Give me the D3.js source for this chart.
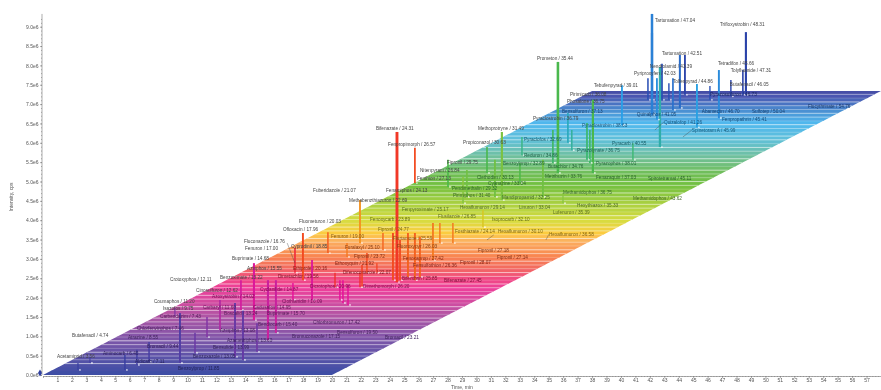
<!DOCTYPE html>
<html>
<head>
<meta charset="utf-8">
<style>
  body { margin: 0; background: #fff; }
  svg { display: block; font-family: "Liberation Sans", Arial, sans-serif; filter: blur(0.55px); }
  .axis path, .axis line { stroke: #777; stroke-width: 0.6; }
  .axis text { fill: #555; font-size: 5px; font-family: "Liberation Sans", Arial, sans-serif; }
  .title { fill: #555; font-size: 5px; }
  .label { font-size: 4.7px; }
</style>
<script src="https://cdn.jsdelivr.net/npm/d3@7"></script>
</head>
<body>
<svg width="881" height="390"></svg>
<script>
// colour ramp along the stack, keyed on the row level (1e6 units of the y axis)
var rampLevels = [0, .39, .9, 1.42, 1.81, 2.2, 2.45, 2.71, 3.05, 3.41, 3.62, 3.93, 4.39, 4.86, 5.17, 5.61, 6.02, 6.46, 6.8, 6.98, 7.16, 7.34];
var bandColors = ["#3f4ea5", "#5a53a8", "#8055a8", "#aa55a5", "#d04ca0", "#ee3f9a", "#f04a80", "#f26a60", "#f98850", "#fbb060", "#fccc40",
                  "#d8dc40", "#a8d040", "#72c040", "#70be58", "#70c0a0", "#60c0d8", "#50b8ee", "#4a8cd0", "#4a70c0", "#4a55b0", "#43479f"];
var peakColors = ["#2f3f9f", "#4a3fa5", "#6a3aa5", "#8a35a5", "#c0259f", "#e6129a", "#ee1a6a", "#f0302a", "#f2501f", "#f47a20", "#f5b520",
                  "#c8d020", "#8ec63f", "#4cb848", "#4cb848", "#3cb878", "#2aa8c0", "#29a0e8", "#2a78d0", "#2a60c0", "#2a48b0", "#2a3aa0"];

var yTicks = d3.range(0, 9.5, 0.5);
var xTicks = d3.range(1, 58);
var gapOpacity = [.7, .3, .5, .75, .25, .6];

// [time, base, top, row] - row only where the trace colour differs from its base level
var peaks = [
  [42.15, 6.72, 9.33], [42.15, 7.11, 8.84], [48.65, 7.24, 8.86], [44.08, 6.9, 8.27], [44.43, 7.24, 8.27],
  [42.84, 7.11, 8.04], [41.87, 7.11, 7.67], [42.49, 6.6, 7.67], [43.32, 7.11, 7.54], [45.26, 6.4, 7.52],
  [46.78, 6.64, 7.88], [48.44, 7.24, 7.88], [47.61, 7.2, 7.62], [46.16, 7.11, 7.47], [40.07, 6.46, 7.49],
  [43.6, 6.85, 7.67], [37.65, 5.56, 6.51], [38.06, 5.22, 7.11], [36.33, 6.0, 6.77], [40.83, 5.56, 5.99],
  [42.7, 5.89, 7.96], [35.64, 5.22, 8.09], [31.76, 4.52, 6.28], [33.15, 5.68, 6.15], [34.6, 4.6, 5.56],
  [30.73, 5.22, 5.89], [35.29, 5.48, 6.33], [31.28, 4.6, 5.56], [28.03, 4.86, 5.56], [29.34, 4.6, 5.3],
  [33.01, 4.96, 5.48], [35.99, 4.44, 4.7], [29.07, 4.44, 5.12], [36.6, 5.81, 6.33], [37.85, 5.48, 6.33],
  [25.74, 4.96, 5.87, 3.0], [24.5, 2.4, 6.28, 2.8], [17.99, 2.45, 3.67, 3.0], [19.72, 3.15, 3.69], [17.44, 2.64, 3.28],
  [21.94, 3.41, 4.52, 3.5], [23.53, 3.23, 3.67], [24.22, 2.45, 3.67, 3.0], [24.71, 2.45, 3.49, 3.0], [25.74, 2.45, 3.67, 3.2],
  [26.09, 2.53, 3.57, 3.2], [26.99, 2.97, 3.93, 3.4], [27.47, 3.41, 3.93], [28.37, 3.41, 3.93], [22.08, 2.27, 2.84, 2.9],
  [30.45, 3.82, 4.26], [18.62, 1.94, 2.97, 2.1], [17.3, 1.94, 2.38, 2.2], [20.55, 1.94, 2.45, 2.2], [20.76, 1.86, 2.45, 2.2],
  [21.11, 1.81, 2.33, 2.2], [14.6, 1.42, 2.89, 2.1], [13.7, 1.68, 2.45, 2.0], [15.57, .9, 2.45, 1.9], [16.12, 1.09, 2.45, 1.9],
  [12.25, 1.16, 1.94, 1.7], [11.35, .98, 1.5, 1.3], [13.29, .47, 1.86, .9], [13.84, .39, 1.68, .8], [14.81, .6, 1.34, 1.0],
  [9.48, .31, 1.6, .5], [9.13, 1.52, 1.73, 1.2], [10.52, .57, 1.09, .9], [3.25, .31, .47], [2.42, .13, .31],
  [5.67, .13, .52], [6.5, .26, .65], [7.34, .34, .85],
  [21.04, 3.05, 3.41, 3.4], [22.42, 2.64, 3.15, 3.0], [23.11, 2.64, 2.89, 2.9], [25.26, 2.53, 3.67, 3.2],
  [21.94, 2.27, 2.64, 2.7], [20.21, 2.27, 2.64, 2.7]
];

// [text, time at left end of the text, level]
var labels = [
  ["Tartumation / 47.04", 42.35, 9.17], ["Trifloxystrobin / 48.31", 46.85, 9.07], ["Tartumation / 42.51", 42.84, 8.32],
  ["Nendrolamid / 43.39", 42.0, 7.98], ["Pyriproxyfen / 42.03", 40.9, 7.8], ["Tolfenpyrad / 44.86", 43.6, 7.6],
  ["Tetradifon / 45.66", 46.71, 8.06], ["Tolyfluanide / 47.31", 47.6, 7.86], ["Butafenacil / 46.05", 47.54, 7.52],
  ["Tebufenpyrad / 39.01", 38.13, 7.49], ["Prometon / 35.44", 34.19, 8.19], ["Pirimicarb / 36.08", 36.47, 7.24],
  ["Phosalone / 36.75", 36.26, 7.08], ["Bensulfuron / 37.13", 35.92, 6.82], ["Pyraclostrobin / 36.79", 33.91, 6.64],
  ["Pyraclostrobin / 38.63", 37.3, 6.46], ["Quinalphos / 41.05", 41.1, 6.74], ["Quizalofop / 41.26", 42.98, 6.54],
  ["Spinetoram A / 45.99", 44.91, 6.33], ["Fenpropathrin / 45.41", 46.99, 6.61], ["Abamectin / 46.70", 45.6, 6.82],
  ["Sulfotep / 50.04", 49.07, 6.8], ["Flucythrinate / 54.76", 52.94, 6.95], ["Pyrazosulfuron / 46.73", 46.16, 7.26],
  ["Pyraclofos / 32.69", 33.29, 6.1], ["Pyrazolynate / 36.75", 36.96, 5.81], ["Pyracarb / 40.55", 39.38, 5.99],
  ["Reduron / 34.86", 33.29, 5.68], ["Pyrazophos / 38.01", 38.27, 5.48], ["Benzoylprop / 32.89", 31.83, 5.48],
  ["Butachlor / 34.76", 34.95, 5.4], ["Metribuzin / 33.76", 34.74, 5.14], ["Fenazaquin / 37.03", 38.27, 5.12],
  ["Spirotetramat / 45.11", 41.87, 5.09], ["Methamidophos / 36.75", 35.99, 4.73], ["Methamidophos / 43.62", 40.83, 4.57],
  ["Methoprotryne / 31.49", 30.1, 6.38], ["Propiconazol / 30.63", 29.07, 6.02], ["Fenpropimorph / 26.57", 23.88, 5.97],
  ["Fipronil / 29.75", 27.96, 5.5], ["Nitenpyram / 26.84", 26.09, 5.3], ["Fenthion / 27.13", 25.88, 5.09],
  ["Clethodim / 30.13", 30.03, 5.12], ["Cyanazine / 33.04", 30.8, 4.96], ["Pendimethalin / 29.32", 28.3, 4.83],
  ["Pirimiphos / 31.40", 28.37, 4.63], ["Mandipropamid / 32.25", 31.76, 4.6], ["Fenpyroximate / 25.17", 24.84, 4.29],
  ["Hexaflumuron / 29.14", 28.86, 4.32], ["Linuron / 33.04", 32.94, 4.34], ["Hexythiazox / 35.33", 36.96, 4.39],
  ["Flusilazole / 26.85", 27.34, 4.11], ["Isoprocarb / 32.10", 31.07, 4.03], ["Lufenuron / 35.39", 35.29, 4.19],
  ["Fosthiazate / 24.14", 28.51, 3.72], ["Hexaflumuron / 30.10", 31.49, 3.72], ["Hexaflumuron / 36.58", 35.02, 3.64],
  ["Fipronil / 27.18", 30.1, 3.23], ["Fipronil / 27.14", 31.42, 3.05], ["Bifenazate / 24.31", 23.04, 6.38],
  ["Fuberidazole / 21.07", 18.69, 4.78], ["Fenamiphos / 24.13", 23.74, 4.78], ["Methabenzthiazuron / 22.69", 21.18, 4.5],
  ["Fluometuron / 20.03", 17.72, 3.98], ["Ofloxacin / 17.96", 16.61, 3.77], ["Fenoxycarb / 23.89", 22.63, 4.01],
  ["Fipronil / 24.77", 23.18, 3.77], ["Fenuron / 19.00", 19.93, 3.57], ["Flurtamone / 25.59", 24.22, 3.54],
  ["Fluoroxypyr / 26.03", 24.5, 3.33], ["Furalaxyl / 25.10", 20.9, 3.31], ["Cyprodinil / 18.85", 17.16, 3.33],
  ["Fipronil / 23.72", 21.52, 3.07], ["Fenoxaprop / 27.42", 24.91, 3.02], ["Ethoxyquin / 21.92", 20.21, 2.89],
  ["Fensulfothion / 26.36", 25.61, 2.84], ["Fipronil / 28.07", 28.86, 2.92], ["Fluconazole / 16.76", 13.91, 3.46],
  ["Fenuron / 17.00", 13.98, 3.26], ["Buprimate / 14.68", 13.08, 3.02], ["Azinphos / 15.55", 14.12, 2.76],
  ["Ethiprole / 20.16", 17.3, 2.76], ["Dimetachlor / 19.56", 16.26, 2.56], ["Difenoconazole / 22.07", 20.76, 2.64],
  ["Bifenthrin / 25.85", 24.84, 2.51], ["Bifenazate / 27.45", 27.75, 2.45], ["Dicrotophos / 20.96", 18.48, 2.3],
  ["Dimethomorph / 26.20", 22.15, 2.3], ["Benzoximate / 13.22", 12.25, 2.53], ["Cyclanilide / 14.87", 15.02, 2.22],
  ["Butafenacil / 4.74", 2.01, 1.03], ["Acetamiprid / 3.56", .97, .47], ["Crotoxyphos / 12.11", 8.79, 2.48],
  ["Cinosulfuron / 12.62", 10.59, 2.2], ["Coumaphos / 11.20", 7.68, 1.91], ["Azoxystrobin / 14.02", 11.7, 2.04],
  ["Isazofos / 9.75", 8.3, 1.73], ["Carbaryl / 11.60", 11.07, 1.76], ["Carbendazim / 7.43", 8.1, 1.52],
  ["Cadusafos / 14.95", 14.53, 1.76], ["Boscalid / 13.24", 12.53, 1.58], ["Bupirimate / 15.70", 15.5, 1.58],
  ["Chlorfenvinphos / 7.46", 6.5, 1.21], ["Bendiocarb / 15.40", 14.88, 1.32], ["Atrazine / 8.55", 5.88, .96],
  ["Azinphos / 13.08", 12.25, 1.16], ["Bromacil / 9.44", 7.2, .75], ["Bensulide / 13.99", 11.76, .72],
  ["Aminocarb / 6.40", 4.15, .57], ["Benzoxazole / 13.05", 10.38, .49], ["Aldicarb / 7.11", 6.37, .34],
  ["Benzoylprop / 11.85", 9.34, .16], ["Chlorbromuron / 17.42", 18.69, 1.37], ["Bromuconazole / 17.15", 17.23, 1.01],
  ["Bensulfuron / 19.50", 20.35, 1.09], ["Bromacil / 23.21", 23.67, .96], ["Clothianidin / 16.09", 16.54, 1.91],
  ["Azamethiphos / 13.60", 12.73, .9]
];

// [time, level, time, level] - the little tails joining a label to its trace
var leaders = [
  [35.02, 3.64, 34.81, 3.49], [31.2, 3.62, 30.73, 3.49], [44.91, 6.33, 44.29, 6.15],
  [42.98, 6.54, 42.35, 6.33], [16.9, 3.41, 17.44, 2.89]
];

var svg = d3.select("svg");

var x = d3.scaleLinear().domain([0, 58]).range([43, 881]);
var y = d3.scaleLinear().domain([0, 9]).range([375, 26.7]);

var bandColor = d3.scaleLinear().domain(rampLevels).range(bandColors);
var peakColor = d3.scaleLinear().domain(rampLevels).range(peakColors);
var peakWidth = d3.scaleSqrt().domain([0, 2.6]).range([0.7, 2.5]);

// every row of the stack sits further along the time axis as it climbs
var topLevel = 7.34, shift = d3.scaleLinear().domain([0, topLevel]).range([0, 38]), rowSpan = 20, rowStep = 0.098;
var rows = d3.range(0, topLevel, rowStep);

var line = d3.line().x(function(d) { return x(d[0]); }).y(function(d) { return y(d[1]); });

svg.append("g").selectAll("path")
  .data(rows)
  .enter().append("path")
  .attr("d", function(lv) {
    var hi = Math.min(lv + rowStep + 0.01, topLevel);
    return line([[shift(lv), lv], [shift(lv) + rowSpan, lv], [shift(hi) + rowSpan, hi], [shift(hi), hi]]) + "Z";
  })
  .attr("fill", function(lv) { return bandColor(lv); });

// pale seams between the rows, none in the first few
svg.append("g").selectAll("line")
  .data(rows.filter(function(lv) { return lv > 0.28; }))
  .enter().append("line")
  .attr("x1", function(lv) { return x(shift(lv)); })
  .attr("x2", function(lv) { return x(shift(lv) + rowSpan); })
  .attr("y1", function(lv) { return y(lv); })
  .attr("y2", function(lv) { return y(lv); })
  .attr("stroke", "#fff")
  .attr("stroke-width", 0.8)
  .attr("stroke-opacity", function(lv, i) { return gapOpacity[i % gapOpacity.length]; });

var sorted = peaks.slice().sort(function(a, b) { return b[1] - a[1]; });

svg.append("g").selectAll("line")
  .data(sorted)
  .enter().append("line")
  .attr("x1", function(d) { return x(d[0]); })
  .attr("x2", function(d) { return x(d[0]); })
  .attr("y1", function(d) { return y(d[1]); })
  .attr("y2", function(d) { return y(d[2]); })
  .attr("stroke", function(d) { return peakColor(d[3] === undefined ? d[1] : d[3]); })
  .attr("stroke-width", function(d) { return peakWidth(d[2] - d[1]); });

// white flecks where the traces leave their row
svg.append("g").selectAll("circle")
  .data(peaks)
  .enter().append("circle")
  .attr("cx", function(d) { return x(d[0]) + 2; })
  .attr("cy", function(d) { return y(d[1]); })
  .attr("r", 0.9)
  .attr("fill", "#fff")
  .attr("fill-opacity", 0.75);

svg.append("g").selectAll("line")
  .data(leaders)
  .enter().append("line")
  .attr("x1", function(d) { return x(d[0]); })
  .attr("y1", function(d) { return y(d[1]); })
  .attr("x2", function(d) { return x(d[2]); })
  .attr("y2", function(d) { return y(d[3]); })
  .attr("stroke", "#444")
  .attr("stroke-width", 0.4);

svg.append("g").selectAll("text")
  .data(labels)
  .enter().append("text")
  .attr("class", "label")
  .attr("x", function(d) { return x(d[1]); })
  .attr("y", function(d) { return y(d[2]); })
  .attr("dy", "0.35em")
  .attr("fill", function(d) {
    var inside = d[2] < topLevel && d[1] >= shift(d[2]);
    return inside ? d3.color(peakColor(d[2])).darker(1.7) : "#444";
  })
  .text(function(d) { return d[0]; });

// axes
var yAxis = svg.append("g").attr("class", "axis").attr("transform", "translate(42,0)");
yAxis.call(d3.axisLeft(y).tickValues(yTicks).tickSize(2).tickPadding(1.5)
  .tickFormat(function(d) { return d.toFixed(1) + "e6"; }));
yAxis.select(".domain").attr("d", "M0," + y(9.33) + "V" + y(0));

var yMinor = svg.append("g").attr("class", "axis").attr("transform", "translate(42,0)");
yMinor.call(d3.axisLeft(y).tickValues(d3.range(0, 9.3, 0.1)).tickSize(1).tickFormat(""));
yMinor.select(".domain").remove();

var xAxis = svg.append("g").attr("class", "axis").attr("transform", "translate(0,376)");
xAxis.call(d3.axisBottom(x).tickValues(xTicks).tickSize(2).tickPadding(0.5).tickFormat(d3.format("d")));

var xMinor = svg.append("g").attr("class", "axis").attr("transform", "translate(0,376)");
xMinor.call(d3.axisBottom(x).tickValues(d3.range(0, 58, 0.2)).tickSize(1).tickFormat(""));
xMinor.select(".domain").remove();

svg.append("text").attr("class", "title").attr("x", x(29)).attr("y", 388.5)
  .attr("text-anchor", "middle").text("Time, min");
svg.append("text").attr("class", "title")
  .attr("transform", "translate(13," + y(4.6) + ") rotate(-90)")
  .attr("text-anchor", "middle").text("Intensity, cps");

// small marker at the origin
svg.append("path").attr("d", d3.symbol().type(d3.symbolDiamond).size(14)())
  .attr("transform", "translate(" + (x(0) - 3) + "," + (y(0) - 2) + ")")
  .attr("fill", "#2f3f9f");
</script>
</body>
</html>
